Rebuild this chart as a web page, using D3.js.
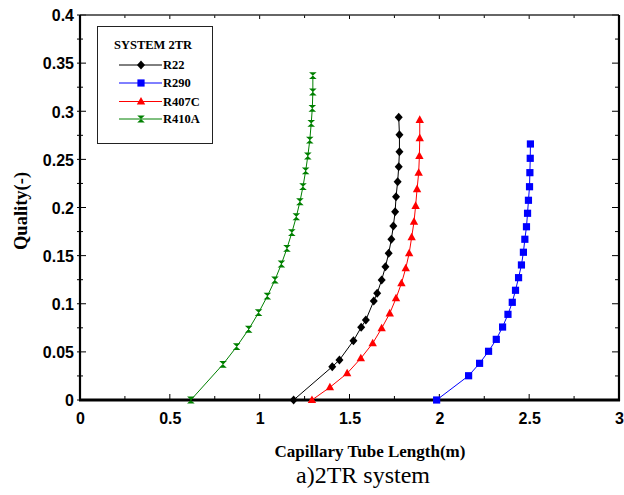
<!DOCTYPE html>
<html>
<head>
<meta charset="utf-8">
<script src="https://cdn.jsdelivr.net/npm/d3@7"></script>
<style>
  html, body { margin: 0; padding: 0; background: #fff; }
  svg { display: block; }
</style>
</head>
<body>
<svg id="chart" width="624" height="495"></svg>
<script>
// Capillary tube length vs. outlet quality, 2TR system, four refrigerants
const seriesNames = ["R22", "R290", "R407C", "R410A"];

const r22Length = [1.189, 1.404, 1.444, 1.522, 1.565, 1.591, 1.635, 1.654, 1.679, 1.700, 1.718, 1.733, 1.744, 1.754, 1.759, 1.768, 1.774, 1.778, 1.778, 1.774];
const r22Quality = [0, 0.0346, 0.0416, 0.0616, 0.0755, 0.0831, 0.1029, 0.1109, 0.1247, 0.1385, 0.1524, 0.167, 0.1808, 0.1956, 0.2112, 0.2268, 0.2424, 0.258, 0.2756, 0.2937];

const r290Length = [1.985, 2.163, 2.224, 2.274, 2.317, 2.352, 2.382, 2.406, 2.424, 2.441, 2.457, 2.468, 2.476, 2.485, 2.491, 2.496, 2.502, 2.504, 2.506, 2.507];
const r290Quality = [0, 0.0252, 0.0381, 0.0506, 0.063, 0.0758, 0.089, 0.1015, 0.114, 0.1271, 0.1403, 0.1535, 0.167, 0.180, 0.194, 0.2075, 0.2216, 0.2362, 0.2511, 0.266];

const r407cLength = [1.291, 1.391, 1.487, 1.563, 1.629, 1.679, 1.724, 1.759, 1.789, 1.813, 1.832, 1.846, 1.859, 1.868, 1.876, 1.885, 1.889, 1.891, 1.891];
const r407cQuality = [0, 0.0132, 0.0277, 0.0433, 0.0589, 0.0745, 0.090, 0.1057, 0.1212, 0.1368, 0.1524, 0.169, 0.1852, 0.2016, 0.219, 0.236, 0.2535, 0.272, 0.291];

const r410aLength = [0.617, 0.796, 0.872, 0.939, 0.994, 1.043, 1.085, 1.121, 1.152, 1.179, 1.204, 1.224, 1.241, 1.256, 1.268, 1.279, 1.287, 1.293, 1.296, 1.296];
const r410aQuality = [0, 0.0371, 0.0554, 0.0735, 0.0907, 0.108, 0.1247, 0.1413, 0.1576, 0.1738, 0.1904, 0.206, 0.2216, 0.238, 0.2535, 0.270, 0.2875, 0.303, 0.320, 0.337];

const xTickValues = [0, 0.5, 1, 1.5, 2, 2.5, 3];
const xTickLabels = ["0", "0.5", "1", "1.5", "2", "2.5", "3"];
const yTickValues = [0, 0.05, 0.1, 0.15, 0.2, 0.25, 0.3, 0.35, 0.4];
const yTickLabels = ["0", "0.05", "0.1", "0.15", "0.2", "0.25", "0.3", "0.35", "0.4"];

const xTitle = "Capillary Tube Length(m)";
const yTitle = "Quality(-)";
const caption = "a)2TR system";
const legendTitle = "SYSTEM 2TR";

// Marker shapes, centred on the origin
const shapes = {
  diamond: "M0,-4.5L4,0L0,4.5L-4,0Z",
  square: "M-3.6,-3.6H3.6V3.6H-3.6Z",
  triangle: "M0,-4.6L4.2,3L-4.2,3Z",
  hourglass: "M-3.8,-3.4L3.8,-3.4L-3.8,3.4L3.8,3.4Z"
};

const series = [
  { name: seriesNames[0], xs: r22Length, ys: r22Quality, line: "#000000", fill: "#000000", shape: "diamond", lw: 1 },
  { name: seriesNames[1], xs: r290Length, ys: r290Quality, line: "#0000ff", fill: "#0000ff", shape: "square", lw: 1 },
  { name: seriesNames[2], xs: r407cLength, ys: r407cQuality, line: "#ff0000", fill: "#ff0000", shape: "triangle", lw: 1 },
  { name: seriesNames[3], xs: r410aLength, ys: r410aQuality, line: "#008000", fill: "#008000", shape: "hourglass", lw: 1 }
];

const svg = d3.select("#chart");
const plotLeft = 80, plotRight = 619, plotTop = 15, plotBottom = 400;

const x = d3.scaleLinear().domain([0, 3]).range([plotLeft, plotRight]);
const y = d3.scaleLinear().domain([0, 0.4]).range([plotBottom, plotTop]);

const axisFont = "'Liberation Sans', Arial, sans-serif";
const serifFont = "'Liberation Serif', 'Times New Roman', serif";

// Ticks (inward) on all four sides
const xMinor = d3.range(0, 3.001, 0.25);
const yMinor = d3.range(0, 0.4001, 0.025);
const isMajorX = v => Math.abs(v * 2 - Math.round(v * 2)) < 1e-6;
const isMajorY = v => Math.abs(v * 20 - Math.round(v * 20)) < 1e-6;

const tickG = svg.append("g").attr("stroke", "#000").attr("stroke-width", 1);
xMinor.forEach(v => {
  const len = isMajorX(v) ? 6 : 4;
  tickG.append("line").attr("x1", x(v)).attr("x2", x(v)).attr("y1", y(0)).attr("y2", y(0) - len);
  tickG.append("line").attr("x1", x(v)).attr("x2", x(v)).attr("y1", y(0.4)).attr("y2", y(0.4) + (isMajorX(v) ? 4 : 3));
});
yMinor.forEach(v => {
  const len = isMajorY(v) ? 6 : 3;
  tickG.append("line").attr("x1", x(0) - 3).attr("x2", x(0) + len).attr("y1", y(v)).attr("y2", y(v));
  tickG.append("line").attr("x1", x(3)).attr("x2", x(3) - len - 1).attr("y1", y(v)).attr("y2", y(v));
});

// Frame
svg.append("line").attr("x1", x(0)).attr("x2", x(3)).attr("y1", y(0.4)).attr("y2", y(0.4))
  .attr("stroke", "#333").attr("stroke-width", 1.6);
svg.append("line").attr("x1", x(0)).attr("x2", x(0)).attr("y1", y(0.4)).attr("y2", y(0) + 1)
  .attr("stroke", "#000").attr("stroke-width", 2.2);
svg.append("line").attr("x1", x(3)).attr("x2", x(3)).attr("y1", y(0.4)).attr("y2", y(0) + 1)
  .attr("stroke", "#000").attr("stroke-width", 2.2);
svg.append("line").attr("x1", x(0) - 1).attr("x2", x(3) + 1).attr("y1", y(0)).attr("y2", y(0))
  .attr("stroke", "#000").attr("stroke-width", 3);

// Tick labels via d3 axes (domain and tick lines hidden)
const xAxis = d3.axisBottom(x).tickValues(xTickValues).tickSize(0).tickPadding(0)
  .tickFormat((d, i) => xTickLabels[i]);
const gx = svg.append("g").attr("transform", `translate(0,${plotBottom + 13})`).call(xAxis);
gx.select(".domain").remove();
gx.selectAll("text").attr("font-family", axisFont).attr("font-size", 16).attr("font-weight", "bold")
  .attr("fill", "#000").attr("dy", "0.71em");

const yAxis = d3.axisLeft(y).tickValues(yTickValues).tickSize(0).tickPadding(0)
  .tickFormat((d, i) => yTickLabels[i]);
const gy = svg.append("g").attr("transform", `translate(${plotLeft - 6},0)`).call(yAxis);
gy.select(".domain").remove();
gy.selectAll("text").attr("font-family", axisFont).attr("font-size", 16).attr("font-weight", "bold")
  .attr("fill", "#000").attr("dy", "0.36em");

// Series lines and markers
const line = d3.line().x(d => x(d[0])).y(d => y(d[1]));
series.forEach(s => {
  const pts = s.xs.map((v, i) => [v, s.ys[i]]);
  svg.append("path").datum(pts).attr("d", line).attr("fill", "none")
    .attr("stroke", s.line).attr("stroke-width", s.lw);
  svg.append("g").selectAll("path").data(pts).join("path")
    .attr("d", shapes[s.shape])
    .attr("transform", d => `translate(${x(d[0])},${y(d[1])})`)
    .attr("fill", s.fill);
});

// Legend
const lg = svg.append("g");
lg.append("rect").attr("x", 97.5).attr("y", 26.5).attr("width", 115).attr("height", 117)
  .attr("fill", "#fff").attr("stroke", "#222").attr("stroke-width", 1);
lg.append("text").attr("x", 114).attr("y", 48.5).text(legendTitle)
  .attr("font-family", serifFont).attr("font-size", 12.5).attr("font-weight", "bold");
const legendRows = [65, 83, 101.5, 119];
series.forEach((s, i) => {
  const ly = legendRows[i];
  lg.append("line").attr("x1", 119).attr("x2", 162).attr("y1", ly).attr("y2", ly)
    .attr("stroke", s.line).attr("stroke-width", s.lw);
  lg.append("path").attr("d", shapes[s.shape]).attr("transform", `translate(141,${ly})`).attr("fill", s.fill);
  lg.append("text").attr("x", 163).attr("y", ly + 4.3).text(s.name)
    .attr("font-family", serifFont).attr("font-size", 12.5).attr("font-weight", "bold");
});

// Axis titles and caption
svg.append("text").attr("x", 370).attr("y", 457).attr("text-anchor", "middle")
  .attr("font-family", serifFont).attr("font-size", 17).attr("font-weight", "bold").text(xTitle);
svg.append("text").attr("transform", "translate(27,211) rotate(-90)").attr("text-anchor", "middle")
  .attr("font-family", serifFont).attr("font-size", 18.5).attr("font-weight", "bold").text(yTitle);
svg.append("text").attr("x", 363).attr("y", 483).attr("text-anchor", "middle")
  .attr("font-family", serifFont).attr("font-size", 24).text(caption);
</script>
</body>
</html>
